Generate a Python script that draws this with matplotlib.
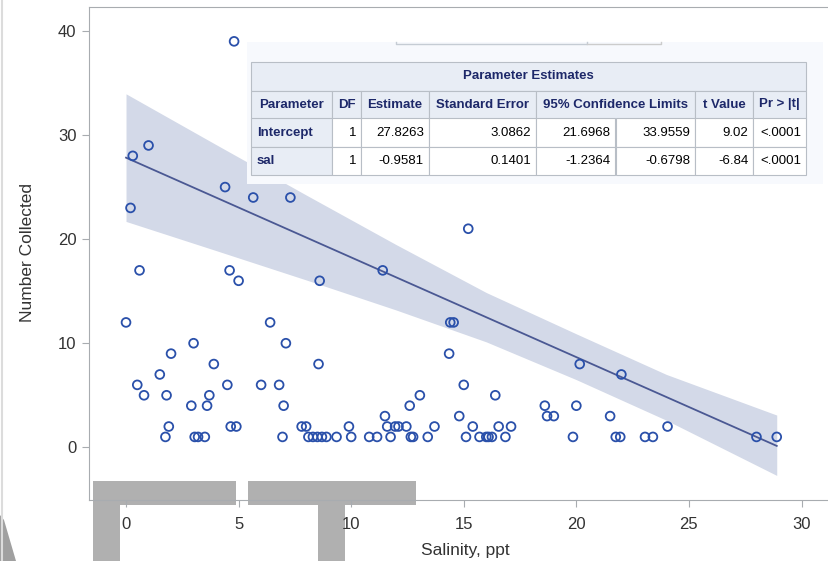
import matplotlib.pyplot as plt
import numpy as np
from matplotlib.patches import Rectangle, Polygon
from matplotlib.lines import Line2D

plt.rcParams['font.family'] = ['Liberation Sans', 'DejaVu Sans']

# salinity (ppt) vs number collected
salinity = [4.8, 0.3, 1.0, 0.2, 4.4, 5.65, 7.3, 0.6, 4.6, 5.0, 8.6, 11.4, 15.2,
            0.0, 6.4, 14.4, 14.55, 3.0, 7.1, 2.0, 14.35, 3.9, 8.55, 20.15, 1.5,
            22.0, 0.5, 4.5, 6.0, 6.8, 15.0, 0.8, 1.8, 3.7, 13.05, 16.4, 2.9, 3.6,
            7.0, 12.6, 18.6, 20.0, 11.5, 14.8, 18.7, 19.0, 21.5, 1.9, 4.65, 4.9,
            7.8, 8.0, 9.9, 11.6, 11.95, 12.1, 12.45, 13.7, 15.4, 16.55, 17.1, 24.05,
            1.75, 3.05, 3.2, 3.5, 6.95, 8.1, 8.3, 8.5, 8.7, 8.9, 9.35, 10.0, 10.8,
            11.15, 11.75, 12.65, 12.75, 13.4, 15.1, 15.7, 16.0, 16.1, 16.25, 16.85,
            19.85, 21.75, 21.95, 23.05, 23.4, 28.0, 28.9]
count = [39, 28, 29, 23, 25, 24, 24, 17, 17, 16, 16, 17, 21,
         12, 12, 12, 12, 10, 10, 9, 9, 8, 8, 8, 7,
         7, 6, 6, 6, 6, 6, 5, 5, 5, 5, 5, 4, 4,
         4, 4, 4, 4, 3, 3, 3, 3, 3, 2, 2, 2,
         2, 2, 2, 2, 2, 2, 2, 2, 2, 2, 2, 2,
         1, 1, 1, 1, 1, 1, 1, 1, 1, 1, 1, 1, 1,
         1, 1, 1, 1, 1, 1, 1, 1, 1, 1, 1,
         1, 1, 1, 1, 1, 1, 1]

# fit and 95% confidence band (band edges)
b0, b1 = 27.8263, -0.9581
band_x = [0, 4, 8, 12, 16, 20, 24, 28.9]
band_upper = [33.96, 29.08, 24.24, 19.47, 14.87, 10.9, 7.0, 3.1]
band_lower = [21.70, 18.90, 16.08, 13.19, 10.13, 6.5, 2.6, -2.7]

# parameter estimates table
table_title = 'Parameter Estimates'
table_header = ['Parameter', 'DF', 'Estimate', 'Standard Error',
                '95% Confidence Limits', 't Value', 'Pr > |t|']
param_names = ['Intercept', 'sal']
param_df = ['1', '1']
param_est = ['27.8263', '-0.9581']
param_se = ['3.0862', '0.1401']
param_lo = ['21.6968', '-1.2364']
param_hi = ['33.9559', '-0.6798']
param_t = ['9.02', '-6.84']
param_p = ['<.0001', '<.0001']

W, H = 829, 561


def fx(px):
    return px / W


def fy(py):
    return 1 - py / H


fig = plt.figure(figsize=(W / 100, H / 100), dpi=100)
ax = fig.add_axes([fx(89), fy(500), (831 - 89) / W, (500 - 7) / H])
ax.set_facecolor('none')

ax.fill_between(band_x, band_lower, band_upper, color='#d3d9e8', lw=0, zorder=1)
xs = np.array([min(salinity), max(salinity)])
ax.plot(xs, b0 + b1 * xs, color='#4a5893', lw=1.3, zorder=2)
ax.scatter(salinity, count, s=40, facecolors='none', edgecolors='#2a50aa',
           linewidths=1.3, zorder=3)

ax.set_xlim(-1.644, 31.31)
ax.set_ylim(-5.06, 42.30)
ax.set_xticks(range(0, 31, 5))
ax.set_yticks(range(0, 41, 10))
for s in ax.spines.values():
    s.set_color('#a8acb0')
ax.tick_params(direction='out', length=5, color='#a8acb0', labelsize=12,
               labelcolor='#333333')
ax.tick_params(axis='x', pad=7)
ax.tick_params(axis='y', pad=4)

fig.text(fx(28), fy(253), 'Number Collected', rotation=90, ha='center',
         va='center', fontsize=12.5, color='#333333')
fig.text(fx(465), fy(550), 'Salinity, ppt', ha='center', va='center',
         fontsize=12.5, color='#333333')

# grey overlays behind the axes
grey = '#b0b0b0'
for x0, y0, x1, y1 in [(93, 481, 236, 505), (93, 505, 120, 561),
                       (248, 481, 416, 505), (318, 505, 345, 561)]:
    fig.add_artist(Rectangle((fx(x0), fy(y1)), (x1 - x0) / W, (y1 - y0) / H,
                             transform=fig.transFigure, color=grey, lw=0, zorder=-1))
fig.add_artist(Polygon([(fx(0), fy(515)), (fx(4), fy(520)), (fx(16), fy(561)),
                        (fx(0), fy(561))], closed=True, transform=fig.transFigure,
                       color='#a0a0a0', lw=0, zorder=-1))
fig.add_artist(Line2D([fx(2.5), fx(2.5)], [0, 1], transform=fig.transFigure,
                      color='#dcdcdc', lw=1.5))

# table panel
fig.add_artist(Rectangle((fx(247), fy(184)), (823 - 247) / W, (184 - 42) / H,
                         transform=fig.transFigure, color='#f7f9fd', lw=0, zorder=5))
fig.add_artist(Line2D([fx(396), fx(396), fx(587), fx(587)],
                      [fy(41.5), fy(43.5), fy(43.5), fy(41.5)],
                      transform=fig.transFigure, color='#c5ccd4', lw=1, zorder=6))
fig.add_artist(Line2D([fx(587), fx(661), fx(661)], [fy(43.5), fy(43.5), fy(41.5)],
                      transform=fig.transFigure, color='#cccccc', lw=1, zorder=6))

col_edges = [251, 332.5, 361.3, 428.7, 536, 615.5, 695, 753.5, 806]
row_edges = [62, 90.5, 118.5, 147, 175]
head_bg = '#e8edf5'
border = '#b8bec6'
navy = '#1d2869'


def cell(x0, x1, y0, y1, bg):
    fig.add_artist(Rectangle((fx(x0), fy(y1)), (x1 - x0) / W, (y1 - y0) / H,
                             transform=fig.transFigure, facecolor=bg,
                             edgecolor=border, lw=0.8, zorder=6))


def put(text, x, y, ha='center', bold=False, color='black'):
    fig.text(fx(x), fy(y), text, ha=ha, va='center', fontsize=9.5,
             fontweight='bold' if bold else 'normal', color=color, zorder=7)


cell(col_edges[0], col_edges[-1], row_edges[0], row_edges[1], head_bg)
put(table_title, (col_edges[0] + col_edges[-1]) / 2, (row_edges[0] + row_edges[1]) / 2,
    bold=True, color=navy)

head_spans = [(0, 1), (1, 2), (2, 3), (3, 4), (4, 6), (6, 7), (7, 8)]
yh = (row_edges[1] + row_edges[2]) / 2
for label, (a, b) in zip(table_header, head_spans):
    cell(col_edges[a], col_edges[b], row_edges[1], row_edges[2], head_bg)
    put(label, (col_edges[a] + col_edges[b]) / 2, yh, bold=True, color=navy)

for i, name in enumerate(param_names):
    y0, y1 = row_edges[2 + i], row_edges[3 + i]
    yc = (y0 + y1) / 2
    cell(col_edges[0], col_edges[1], y0, y1, head_bg)
    put(name, col_edges[0] + 6, yc, ha='left', bold=True, color=navy)
    vals = [param_df[i], param_est[i], param_se[i], param_lo[i], param_hi[i],
            param_t[i], param_p[i]]
    for j, v in enumerate(vals):
        cell(col_edges[1 + j], col_edges[2 + j], y0, y1, 'white')
        put(v, col_edges[2 + j] - 5, yc, ha='right')

fig.savefig('out.png', dpi=100)
